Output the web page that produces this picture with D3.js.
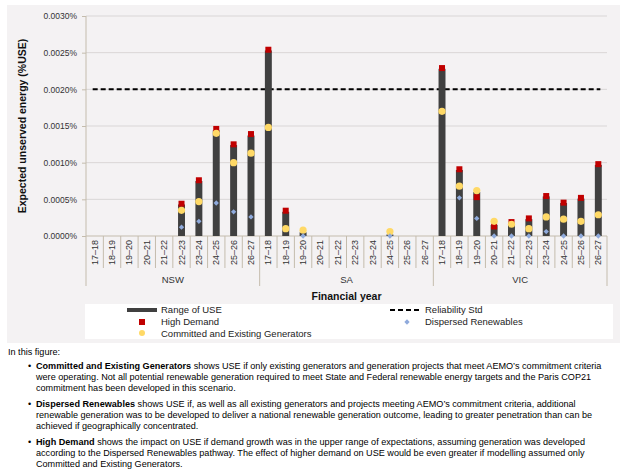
<!DOCTYPE html>
<html>
<head>
<meta charset="utf-8">
<script src="https://cdn.jsdelivr.net/npm/d3@7"></script>
<style>
  body { margin: 0; background: #fff; }
  svg text { font-family: "Liberation Sans", Arial, sans-serif; }
</style>
</head>
<body>
<div id="chart"></div>
<script>
var regions = ["NSW", "SA", "VIC"];
var years = ["17–18", "18–19", "19–20", "20–21", "21–22", "22–23", "23–24", "24–25", "25–26", "26–27"];

// %USE, one value per year, region by region (null = no marker)
var rangeTop = {
  NSW: [0, 0, 0, 0, 0, 0.00043, 0.00075, 0.00144, 0.00124, 0.00137],
  SA:  [0.00253, 0.00033, 0.00005, 0, 0, 0, 0, 0.00002, 0, 0],
  VIC: [0.00228, 0.0009, 0.0006, 0.00015, 0.00018, 0.00023, 0.00054, 0.00045, 0.00051, 0.00097]
};
var highDemand = {
  NSW: [null, null, null, null, null, 0.00044, 0.00076, 0.00146, 0.00125, 0.00139],
  SA:  [0.00254, 0.000345, null, null, null, null, null, null, null, null],
  VIC: [0.00229, 0.00091, 0.00053, 0.00013, 0.00019, 0.00024, 0.000545, 0.000455, 0.00052, 0.00098]
};
var committed = {
  NSW: [null, null, null, null, null, 0.00035, 0.00047, 0.0014, 0.001, 0.00113],
  SA:  [0.00148, 0.0001, 0.00008, null, null, null, null, 0.00006, null, null],
  VIC: [0.0017, 0.00068, 0.00062, 0.0002, 0.00016, 0.0001, 0.00026, 0.00023, 0.0002, 0.00029]
};
var dispersed = {
  NSW: [null, null, null, null, null, 0.00012, 0.0002, 0.00045, 0.00033, 0.00026],
  SA:  [null, null, 0, null, null, null, null, 0, null, null],
  VIC: [null, 0.00052, 0.00024, 0, 0, 0, 0.00006, 0, 0, 0]
};
var reliabilityStd = 0.002;
var yTicks = [0, 0.0005, 0.001, 0.0015, 0.002, 0.0025, 0.003];

var notes = [
  {bullet: false, bold: "", text: "In this figure:"},
  {bullet: true, bold: "Committed and Existing Generators", text: " shows USE if only existing generators and generation projects that meet AEMO’s commitment criteria"},
  {bullet: false, bold: "", text: "were operating. Not all potential renewable generation required to meet State and Federal renewable energy targets and the Paris COP21"},
  {bullet: false, bold: "", text: "commitment has been developed in this scenario."},
  {bullet: true, bold: "Dispersed Renewables", text: " shows USE if, as well as all existing generators and projects meeting AEMO’s commitment criteria, additional"},
  {bullet: false, bold: "", text: "renewable generation was to be developed to deliver a national renewable generation outcome, leading to greater penetration than can be"},
  {bullet: false, bold: "", text: "achieved if geographically concentrated."},
  {bullet: true, bold: "High Demand", text: " shows the impact on USE if demand growth was in the upper range of expectations, assuming generation was developed"},
  {bullet: false, bold: "", text: "according to the Dispersed Renewables pathway. The effect of higher demand on USE would be even greater if modelling assumed only"},
  {bullet: false, bold: "", text: "Committed and Existing Generators."}
];

var width = 625, height = 473;
var plotL = 86, plotR = 607, plotT = 16, plotB = 236;
var axisCol = "#c4bcad";

var svg = d3.select("#chart").append("svg").attr("width", width).attr("height", height);

// grey chart panel + white legend box
svg.append("rect").attr("x", 7).attr("y", 5).attr("width", 613).attr("height", 338).attr("fill", "#f4f2f3");
svg.append("rect").attr("x", 85).attr("y", 304).attr("width", 528).attr("height", 35).attr("fill", "#fff");

// flatten data
var rows = [];
regions.forEach(function (r) {
  years.forEach(function (yr, i) {
    rows.push({key: r + "|" + yr, region: r, year: yr, top: rangeTop[r][i],
      high: highDemand[r][i], com: committed[r][i], dis: dispersed[r][i]});
  });
});

var x = d3.scaleBand().domain(rows.map(function (d) { return d.key; }))
  .range([plotL, plotR]).paddingInner(0.6).paddingOuter(0.3);
var step = x.step();
var y = d3.scaleLinear().domain([0, 0.003]).range([plotB, plotT]);

// gridlines
svg.append("g").selectAll("line").data(yTicks.slice(1)).enter().append("line")
  .attr("x1", plotL).attr("x2", plotR)
  .attr("y1", function (d) { return y(d); }).attr("y2", function (d) { return y(d); })
  .attr("stroke", "#d9d6d6").attr("stroke-width", 1);

// y axis
var yAxis = svg.append("g").attr("transform", "translate(" + plotL + ",0)")
  .call(d3.axisLeft(y).tickValues(yTicks).tickSize(4).tickPadding(5)
    .tickFormat(function (d) { return d.toFixed(4) + "%"; }));
yAxis.select(".domain").remove();
yAxis.selectAll(".tick line").attr("stroke", axisCol);
yAxis.selectAll("text").attr("font-size", "8.5px").attr("fill", "#333").attr("font-family", "Liberation Sans, Arial, sans-serif");
svg.append("line").attr("x1", plotL).attr("x2", plotL).attr("y1", plotT).attr("y2", 286).attr("stroke", axisCol);

// x axis baseline and category dividers
svg.append("line").attr("x1", plotL).attr("x2", plotR).attr("y1", plotB).attr("y2", plotB).attr("stroke", axisCol);
svg.append("g").selectAll("line").data(d3.range(1, rows.length + 1)).enter().append("line")
  .attr("x1", function (i) { return plotL + i * step; }).attr("x2", function (i) { return plotL + i * step; })
  .attr("y1", plotB).attr("y2", function (i) { return i % years.length === 0 ? 286 : 268; })
  .attr("stroke", axisCol);

svg.append("g").selectAll("text").data(rows).enter().append("text")
  .attr("transform", function (d) { return "translate(" + (x(d.key) + x.bandwidth() / 2 + 3) + ",240) rotate(-90)"; })
  .attr("text-anchor", "end").attr("font-size", "9px").attr("fill", "#333")
  .text(function (d) { return d.year; });

svg.append("g").selectAll("text").data(regions).enter().append("text")
  .attr("x", function (r, i) { return plotL + (i + 0.5) * years.length * step; })
  .attr("y", 283).attr("text-anchor", "middle").attr("font-size", "9.5px").attr("fill", "#333")
  .text(function (r) { return r; });

// axis titles
svg.append("text").attr("transform", "translate(26," + ((plotT + plotB) / 2) + ") rotate(-90)")
  .attr("text-anchor", "middle").attr("font-size", "10.5px").attr("font-weight", "bold").attr("fill", "#111")
  .text("Expected unserved energy (%USE)");
svg.append("text").attr("x", (plotL + plotR) / 2).attr("y", 300).attr("text-anchor", "middle")
  .attr("font-size", "10.5px").attr("font-weight", "bold").attr("fill", "#111").text("Financial year");

// reliability standard
var firstC = x(rows[0].key) + x.bandwidth() / 2, lastC = x(rows[rows.length - 1].key) + x.bandwidth() / 2;
svg.append("line").attr("x1", firstC - 2).attr("x2", lastC + 2)
  .attr("y1", y(reliabilityStd)).attr("y2", y(reliabilityStd))
  .attr("stroke", "#000").attr("stroke-width", 2).attr("stroke-dasharray", "5,3");

// range bars
svg.append("g").selectAll("rect").data(rows.filter(function (d) { return d.top > 0; })).enter().append("rect")
  .attr("x", function (d) { return x(d.key); }).attr("width", x.bandwidth())
  .attr("y", function (d) { return y(d.top); }).attr("height", function (d) { return y(0) - y(d.top); })
  .attr("fill", "#404040");

function cx(d) { return x(d.key) + x.bandwidth() / 2; }

svg.append("g").selectAll("rect").data(rows.filter(function (d) { return d.high !== null; })).enter().append("rect")
  .attr("x", function (d) { return cx(d) - 3; }).attr("y", function (d) { return y(d.high) - 3; })
  .attr("width", 6).attr("height", 6).attr("fill", "#c00000");

svg.append("g").selectAll("circle").data(rows.filter(function (d) { return d.com !== null; })).enter().append("circle")
  .attr("cx", cx).attr("cy", function (d) { return y(d.com); }).attr("r", 3.6).attr("fill", "#ffd966");

var diamond = d3.symbol().type(d3.symbolSquare).size(14);
svg.append("g").selectAll("path").data(rows.filter(function (d) { return d.dis !== null; })).enter().append("path")
  .attr("transform", function (d) { return "translate(" + cx(d) + "," + y(d.dis) + ") rotate(45)"; })
  .attr("d", diamond).attr("fill", "#8faadc");

// legend
var lg = svg.append("g").attr("font-size", "9.5px").attr("fill", "#222");
lg.append("line").attr("x1", 127).attr("x2", 157).attr("y1", 310).attr("y2", 310).attr("stroke", "#404040").attr("stroke-width", 4);
lg.append("rect").attr("x", 139).attr("y", 319).attr("width", 6).attr("height", 6).attr("fill", "#c00000");
lg.append("circle").attr("cx", 142).attr("cy", 333).attr("r", 3).attr("fill", "#ffd966");
lg.append("line").attr("x1", 390).attr("x2", 422).attr("y1", 310).attr("y2", 310).attr("stroke", "#000").attr("stroke-width", 2).attr("stroke-dasharray", "5,3");
lg.append("path").attr("transform", "translate(407,322) rotate(45)").attr("d", diamond).attr("fill", "#8faadc");
[["Range of USE", 161, 310], ["High Demand", 161, 322], ["Committed and Existing Generators", 161, 334],
 ["Reliability Std", 425, 310], ["Dispersed Renewables", 425, 322]].forEach(function (t) {
  lg.append("text").attr("x", t[1]).attr("y", t[2]).attr("dy", "0.35em").text(t[0]);
});

// notes below the chart
var lineY = [355, 369, 380, 391, 407, 418, 429, 445, 456, 467];
var nt = svg.append("g").attr("font-size", "9.1px").attr("fill", "#000");
notes.forEach(function (n, i) {
  var indent = i === 0 ? 8 : 36;
  if (n.bullet) nt.append("text").attr("x", 28).attr("y", lineY[i]).text("•");
  var t = nt.append("text").attr("x", indent).attr("y", lineY[i]);
  if (n.bold) t.append("tspan").attr("font-weight", "bold").text(n.bold);
  t.append("tspan").text(n.text);
});
</script>
</body>
</html>
